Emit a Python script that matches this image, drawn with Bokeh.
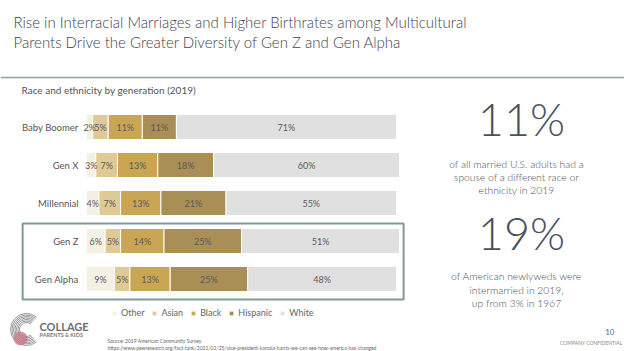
from bokeh.plotting import figure
from bokeh.models import Range1d, ColumnDataSource, Legend, LegendItem
from bokeh.core.properties import value
from bokeh.embed import file_html
from bokeh.resources import INLINE
import numpy as np

# ---------------- data ----------------
generations = ["Baby Boomer", "Gen X", "Millennial", "Gen Z", "Gen Alpha"]
groups = ["Other", "Asian", "Black", "Hispanic", "White"]
other = [2, 3, 4, 6, 9]
asian = [5, 7, 7, 5, 5]
black = [11, 13, 13, 14, 13]
hispanic = [11, 18, 21, 25, 25]
white = [71, 60, 55, 51, 48]
highlighted = ["Gen Z", "Gen Alpha"]
colors = ["#f4f0e3", "#dfc995", "#c9a654", "#a98e56", "#e0e0e0"]

title_lines = ["Rise in Interracial Marriages and Higher Birthrates among Multicultural",
               "Parents Drive the Greater Diversity of Gen Z and Gen Alpha"]
subtitle = "Race and ethnicity by generation (2019)"
stat1 = "11%"
stat1_text = ["of all married U.S. adults had a", "spouse of a different race or", "ethnicity in 2019"]
stat2 = "19%"
stat2_text = ["of American newlyweds were", "intermarried in 2019,", "up from 3% in 1967"]
source_lines = ["Source: 2019 American Community Survey",
                "https://www.pewresearch.org/fact-tank/2021/02/25/vice-president-kamala-harris-we-can-see-how-america-has-changed"]

# ---------------- layout ----------------
W, H = 624, 351
BAR_X0, BAR_X1 = 86, 396
ROW0, ROW_STEP = 126.5, 38
BAR_H = 25
FONT = "Lato"
LIGHT = "Lato Light"
TXT = "#4a4f57"

p = figure(width=W, height=H, x_range=Range1d(0, W), y_range=Range1d(H, 0),
           output_backend="svg", toolbar_location=None, min_border=0,
           x_axis_location=None, y_axis_location=None, outline_line_color=None,
           background_fill_color="white", border_fill_color="white")
p.grid.visible = False

px_per = (BAR_X1 - BAR_X0) / 100.0
p.extra_x_ranges = {"pct": Range1d(-BAR_X0 / px_per, (W - BAR_X0) / px_per)}
p.extra_y_ranges = {"row": Range1d((H - ROW0) / ROW_STEP, -ROW0 / ROW_STEP)}

data = dict(row=list(range(len(generations))), gen=generations,
            Other=other, Asian=asian, Black=black, Hispanic=hispanic, White=white)
source = ColumnDataSource(data)
renderers = p.hbar_stack(groups, y="row", height=BAR_H / ROW_STEP, color=colors,
                         line_color="white", line_width=1, source=source,
                         x_range_name="pct", y_range_name="row")

# segment labels
vals = np.array([other, asian, black, hispanic, white], dtype=float)
starts = np.vstack([np.zeros(vals.shape[1]), np.cumsum(vals, axis=0)[:-1]])
mids = starts + vals / 2
lx, ly, lt = [], [], []
for gi in range(vals.shape[0]):
    for ri in range(vals.shape[1]):
        lx.append(mids[gi, ri]); ly.append(ri); lt.append(f"{int(vals[gi, ri])}%")
p.text(x=lx, y=ly, text=lt, x_range_name="pct", y_range_name="row",
       text_align="center", text_baseline="middle", text_font=value(FONT),
       text_font_size="9px", text_color="#5a5a5a")

# generation labels
p.text(x=[0] * len(generations), y=list(range(len(generations))), text=generations,
       x_range_name="pct", y_range_name="row", x_offset=-8,
       text_align="right", text_baseline="middle", text_font=value(FONT),
       text_font_size="9.5px", text_color="#555555")

# highlight box around Gen Z / Gen Alpha
i0 = generations.index(highlighted[0]); i1 = generations.index(highlighted[-1])
p.quad(left=[-20.6], right=[102.3], top=[i0 - 0.46], bottom=[i1 + 0.54],
       x_range_name="pct", y_range_name="row", fill_color=None,
       line_color="#7d9c96", line_width=2)

# legend
legend = Legend(items=[LegendItem(label=g, renderers=[r]) for g, r in zip(groups, renderers)],
                orientation="horizontal", location=(111, 33), padding=0, margin=0,
                spacing=7, glyph_width=6, glyph_height=6, label_standoff=4,
                label_height=10, label_text_font_size="9px", label_text_font=FONT,
                label_text_color="#666666", border_line_color=None,
                background_fill_alpha=0)
p.add_layout(legend)

# title and rule
p.text(x=[13, 13], y=[21, 41], text=title_lines, text_baseline="middle",
       text_font=value(LIGHT), text_font_size="15px", text_color="#3f444d")
p.segment(x0=[0], x1=[W], y0=[77], y1=[77], line_color="#8ea49c", line_width=1.5)
p.text(x=[21], y=[89], text=[subtitle], text_baseline="middle",
       text_font=value(FONT), text_font_size="10px", text_color="#555555")

# right-hand stats
p.text(x=[521, 521], y=[118, 232], text=[stat1, stat2], text_align="center",
       text_baseline="middle", text_font=value(LIGHT), text_font_size="45px",
       text_color="#4b515b")
p.text(x=[516] * 3, y=[163, 176, 189], text=stat1_text, text_align="center",
       text_baseline="middle", text_font=value(LIGHT), text_font_size="10.3px", text_color=TXT)
p.text(x=[516] * 3, y=[275, 289, 302], text=stat2_text, text_align="center",
       text_baseline="middle", text_font=value(LIGHT), text_font_size="10.3px", text_color=TXT)

# footer
p.text(x=[107, 107], y=[340, 347], text=source_lines, text_baseline="middle",
       text_font=value(FONT), text_font_size="5px", text_color="#666666")
p.text(x=[614], y=[331], text=["10"], text_align="right", text_baseline="middle",
       text_font=value(FONT), text_font_size="8px", text_color="#666666")
p.text(x=[622], y=[342], text=["COMPANY CONFIDENTIAL"], text_align="right", text_baseline="middle",
       text_font=value(FONT), text_font_size="5px", text_color="#888888")

# logo
radii = list(np.arange(7.0, 17.0, 1.5))
p.arc(x=[26] * len(radii), y=[329] * len(radii), radius=radii, start_angle=0.9,
      end_angle=2 * np.pi - 0.9, line_color="#8a8a8a", line_width=0.9)
p.scatter(x=[20], y=[338], size=14, fill_color="#c4707e", fill_alpha=0.7, line_color=None)
p.text(x=[39], y=[326], text=["COLLAGE"], text_baseline="middle",
       text_font=value(FONT), text_font_size="11px", text_font_style="bold", text_color="#6e6e6e")
p.text(x=[39], y=[334], text=["PARENTS & KIDS"], text_baseline="middle",
       text_font=value(FONT), text_font_size="5.5px", text_font_style="bold", text_color="#7a7a7a")

open("out.html", "w").write(file_html(p, INLINE))
